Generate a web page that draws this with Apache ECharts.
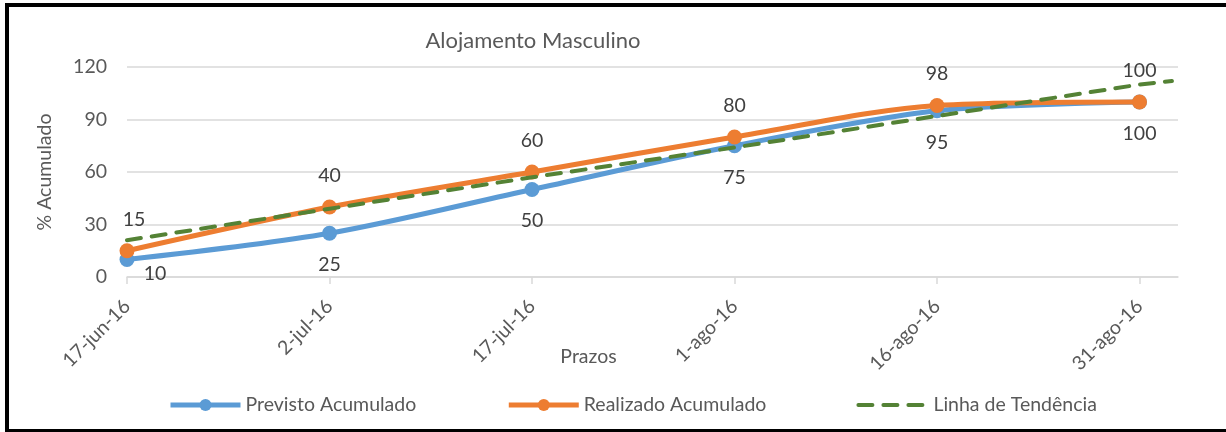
<!DOCTYPE html>
<html>
<head>
<meta charset="utf-8">
<script src="https://cdn.jsdelivr.net/npm/echarts@6/dist/echarts.min.js"></script>
<style>
  html, body { margin: 0; padding: 0; background: #fff; overflow: hidden; }
  #chart { width: 1226px; height: 432px; }
  #frame {
    position: absolute; left: 5px; top: 3px; width: 1300px; height: 430px;
    box-sizing: border-box; border: 4px solid #000; pointer-events: none;
  }
</style>
</head>
<body>
<div id="chart"></div>
<div id="frame"></div>
<script>
const categories = ['17-jun-16', '2-jul-16', '17-jul-16', '1-ago-16', '16-ago-16', '31-ago-16']
const previsto = [10, 25, 50, 75, 95, 100]
const realizado = [15, 40, 60, 80, 98, 100]
// linha de tendência (reta, prolonga-se um pouco além do último prazo)
const trendX = [0, 1, 2, 3, 4, 5, 5.16]
const trendY = [21, 39, 57, 74, 92, 110, 112]
const yTicks = [0, 30, 60, 90, 120]

const FONT = 'Lato'
const TXT = '#595959'
const FS = 19.5

const chart = echarts.init(document.getElementById('chart'))

const idx = categories.map((c, i) => i)

const labelStyle = {
  show: true,
  distance: 14,
  fontFamily: FONT,
  fontSize: FS,
  color: '#404040',
  formatter: (p) => p.value[1],
}

chart.setOption({
  animation: false,
  textStyle: { fontFamily: FONT },
  title: {
    text: 'Alojamento Masculino',
    left: 528,
    top: 25,
    textAlign: 'center',
    textStyle: { fontFamily: FONT, fontSize: 22, fontWeight: 'normal', color: TXT },
  },
  legend: {
    bottom: 17,
    left: 168,
    padding: 0,
    itemWidth: 70,
    itemHeight: 15,
    itemGap: 90,
    textStyle: { fontFamily: FONT, fontSize: FS, color: TXT },
    lineStyle: { width: 5 },
    data: [
      { name: 'Previsto Acumulado' },
      { name: 'Realizado Acumulado' },
      { name: 'Linha de Tendência', itemStyle: { color: 'rgba(0,0,0,0)', borderWidth: 0 }, lineStyle: { width: 4 } },
    ],
  },
  grid: { left: 127, right: 48, top: 67, bottom: 155, containLabel: false },
  xAxis: {
    type: 'value',
    min: 0,
    max: 5.19,
    interval: 1,
    name: 'Prazos',
    nameLocation: 'middle',
    nameGap: 70,
    nameMoveOverlap: false,
    nameTextStyle: { fontFamily: FONT, fontSize: FS, color: TXT, padding: [0, 128, 0, 0] },
    axisLine: { show: true, lineStyle: { color: '#D9D9D9', width: 1.5 } },
    axisTick: { show: true, length: 7, customValues: idx, lineStyle: { color: '#D9D9D9', width: 1.5 } },
    splitLine: { show: false },
    axisLabel: {
      customValues: idx,
      rotate: 45,
      margin: 26,
      fontFamily: FONT,
      fontSize: FS,
      color: TXT,
      formatter: (v) => categories[v] || '',
    },
  },
  yAxis: {
    type: 'value',
    min: 0,
    max: 120,
    interval: 30,
    name: '% Acumulado',
    nameLocation: 'middle',
    nameGap: 72,
    nameTextStyle: { fontFamily: FONT, fontSize: FS, color: TXT },
    axisLine: { show: false },
    axisTick: { show: false },
    axisLabel: { margin: 20, fontFamily: FONT, fontSize: FS, color: TXT },
    splitLine: { lineStyle: { color: '#D9D9D9', width: 1.5 } },
  },
  series: [
    {
      name: 'Previsto Acumulado',
      type: 'line',
      smooth: 0.3,
      data: previsto.map((v, i) => (i === 0
        ? { value: [i, v], label: { offset: [28, -17] } }
        : { value: [i, v] })),
      symbol: 'circle',
      symbolSize: 15,
      lineStyle: { color: '#5B9BD5', width: 5 },
      itemStyle: { color: '#5B9BD5' },
      label: { ...labelStyle, position: 'bottom' },
      z: 2,
    },
    {
      name: 'Realizado Acumulado',
      type: 'line',
      smooth: 0.3,
      data: realizado.map((v, i) => (i === 0
        ? { value: [i, v], label: { offset: [7, 0] } }
        : { value: [i, v] })),
      symbol: 'circle',
      symbolSize: 15,
      lineStyle: { color: '#ED7D31', width: 5 },
      itemStyle: { color: '#ED7D31' },
      label: { ...labelStyle, position: 'top' },
      z: 3,
    },
    {
      name: 'Linha de Tendência',
      type: 'line',
      data: trendX.map((x, i) => [x, trendY[i]]),
      symbol: 'none',
      lineStyle: { color: '#548235', width: 4, type: [14, 11], cap: 'round' },
      itemStyle: { color: '#548235' },
      z: 4,
    },
  ],
})
</script>
</body>
</html>
